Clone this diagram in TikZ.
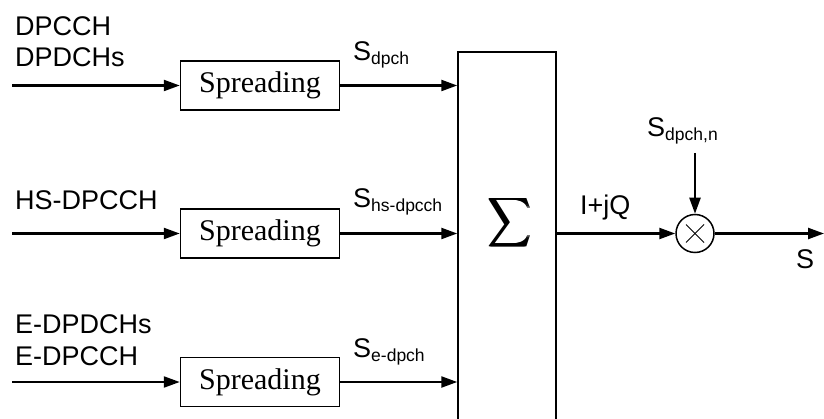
\documentclass[tikz,border=0pt]{standalone}
\usepackage{fontspec}
\setmainfont{Liberation Serif}
\setsansfont{Liberation Sans}
\usetikzlibrary{arrows.meta}
\newcommand\lowsub[1]{\raisebox{-4pt}{\fontsize{17.5}{17.5}\selectfont #1}}
\newcommand\fatsum{\makebox[0pt][l]{$\displaystyle\sum$}\kern0.35pt\makebox[0pt][l]{$\displaystyle\sum$}\kern0.35pt$\displaystyle\sum$}
\begin{document}
\begin{tikzpicture}[x=1pt,y=-1pt,
  sigline/.style={-{Triangle[length=16pt,width=11pt]},line width=2.3pt},
  spbox/.style={draw,line width=1.5pt,minimum width=159pt,minimum height=49pt,inner sep=0pt,font=\fontsize{30}{30}\selectfont},
  lbl/.style={anchor=base west,inner sep=0pt,font=\sffamily\fontsize{27}{27}\selectfont},
  sumbox/.style={draw,line width=1.5pt,minimum width=98pt,minimum height=378pt,inner sep=0pt},
  mulnode/.style={draw,circle,minimum size=38pt,inner sep=0pt,line width=1.5pt}
]
\useasboundingbox (0,0) rectangle (824,419);
\clip (0,0) rectangle (824,419);

% spreading blocks
\node[spbox] (sp1) at (260,85.5) {Spreading};
\node[spbox] (sp2) at (260,233.5) {Spreading};
\node[spbox] (sp3) at (260,382) {Spreading};

% summation block
\node[sumbox] (sum) at (507,241) {};
\node[inner sep=0pt,xscale=2.95,yscale=3.45] (sigma) at (510,222.5) {\fatsum};

% multiplier
\node[mulnode] (mul) at (695,233.5) {};
\draw[line width=1pt] ([shift={(-9,-9)}]mul.center) -- ([shift={(9,9)}]mul.center);
\draw[line width=1pt] ([shift={(-9,9)}]mul.center) -- ([shift={(9,-9)}]mul.center);

% free ends
\coordinate (in1) at (12,85.5);
\coordinate (in2) at (12,233.5);
\coordinate (in3) at (12,382);
\coordinate (code) at (695,153);
\coordinate (out) at (824,233.5);

% connectors
\draw[sigline] (in1) -- (sp1.west);
\draw[sigline] (in2) -- (sp2.west);
\draw[sigline] (in3) -- (sp3.west);
\draw[sigline] (sp1.east) -- (sp1.east -| sum.west);
\draw[sigline] (sp2.east) -- (sp2.east -| sum.west);
\draw[sigline] (sp3.east) -- (sp3.east -| sum.west);
\draw[sigline] (sum.east |- mul.west) -- (mul.west);
\draw[sigline] (code) -- (mul.north);
\draw[sigline] (mul.east) -- (out);

% labels
\node[lbl] (l1a) at (15,36) {DPCCH};
\node[lbl] (l1b) at (15,67) {DPDCHs};
\node[lbl] (l2) at (15,210) {HS-DPCCH};
\node[lbl] (l3a) at (15,334) {E-DPDCHs};
\node[lbl] (l3b) at (15,365) {E-DPCCH};
\node[lbl] (s1) at (353,61) {S\lowsub{dpch}};
\node[lbl] (s2) at (353,208) {S\lowsub{hs-dpcch}};
\node[lbl] (s3) at (353,357) {S\lowsub{e-dpch}};
\node[lbl] (iq) at (580,215) {I+jQ};
\node[lbl] (sc) at (647,137) {S\lowsub{dpch,n}};
\node[lbl] (so) at (796,269) {S};
\end{tikzpicture}
\end{document}
